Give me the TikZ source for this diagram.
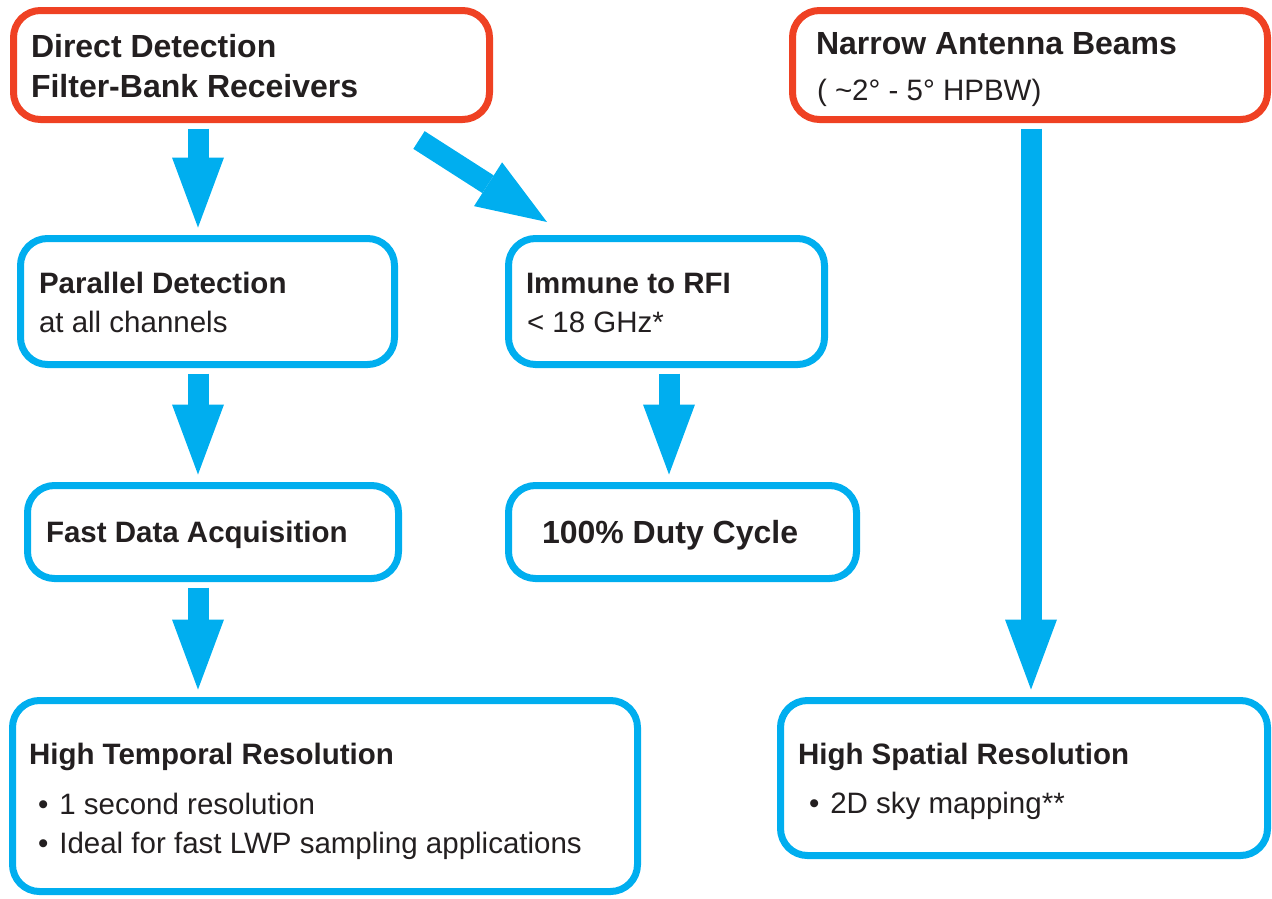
\documentclass[tikz,border=0pt]{standalone}
\usepackage{fontspec}
\setmainfont{Liberation Sans}
\usetikzlibrary{arrows.meta}
\begin{document}
\begin{tikzpicture}[x=1pt,y=-1pt,
		redbox/.style={draw=custcol_ef_41_23, line width=7pt, rounded corners=27pt, inner sep=0, outer sep=0},
		bluebox/.style={draw=custcol_0_ae_ef, line width=7pt, rounded corners=27pt, inner sep=0, outer sep=0},
		headtxt/.style={inner sep=0, outer sep=0, anchor=base west, text=custcol_23_1f_20, font=\fontsize{29.5pt}{29.5pt}\bfseries\selectfont},
		bigtxt/.style={headtxt, font=\fontsize{32pt}{32pt}\bfseries\selectfont},
		bodytxt/.style={headtxt, font=\fontsize{29.5pt}{29.5pt}\selectfont},
		flow/.style={draw=custcol_0_ae_ef, line width=21pt, line cap=butt, shorten <=9pt, shorten >=11pt, -{Triangle[width=52pt,length=70pt,line width=0pt]}}]
				\definecolor{custcol_ef_41_23}{RGB}{239, 65, 35}
				\definecolor{custcol_0_ae_ef}{RGB}{0, 174, 239}
				\definecolor{custcol_23_1f_20}{RGB}{35, 31, 32}
				\useasboundingbox (0,0) rectangle (1272,898);
				% boxes
				\node[redbox, minimum width=476pt, minimum height=109pt] (direct) at (251.5,65) {};
				\node[redbox, minimum width=475pt, minimum height=109pt] (narrow) at (1030,65) {};
				\node[bluebox, minimum width=374pt, minimum height=126pt] (parallel) at (207.5,301.5) {};
				\node[bluebox, minimum width=316pt, minimum height=126pt] (immune) at (666.5,301.5) {};
				\node[bluebox, minimum width=371pt, minimum height=93pt] (fast) at (213,532) {};
				\node[bluebox, minimum width=348pt, minimum height=93pt] (duty) at (682.5,532) {};
				\node[bluebox, minimum width=625pt, minimum height=191pt] (temporal) at (325,796) {};
				\node[bluebox, minimum width=487pt, minimum height=155pt] (spatial) at (1024,778) {};
				% texts
				\node[bigtxt] (direct-a) at (31,57) {Direct Detection};
				\node[bigtxt] (direct-b) at (31,97) {Filter-Bank Receivers};
				\node[bigtxt] (narrow-a) at (816,54) {Narrow Antenna Beams};
				\node[bodytxt] (narrow-b) at (817,100) {( \char"007E 2° - 5° HPBW)};
				\node[headtxt] (parallel-a) at (39,293) {Parallel Detection};
				\node[bodytxt] (parallel-b) at (39,332) {at all channels};
				\node[headtxt] (immune-a) at (526,293) {Immune to RFI};
				\node[bodytxt] (immune-b) at (527,332) {< 18 GHz*};
				\node[headtxt] (fast-a) at (46,542) {Fast Data Acquisition};
				\node[bigtxt] (duty-a) at (542,543) {100\% Duty Cycle};
				\node[headtxt] (temporal-a) at (29,764) {High Temporal Resolution};
				\node[bodytxt] (temporal-b) at (38,814) {•\hspace{11pt}1 second resolution};
				\node[bodytxt] (temporal-c) at (38,853) {•\hspace{11pt}Ideal for fast LWP sampling applications};
				\node[headtxt] (spatial-a) at (798,764) {High Spatial Resolution};
				\node[bodytxt] (spatial-b) at (809,813) {•\hspace{11pt}2D sky mapping**};
				% arrows
				\draw[flow] (direct.south -| 198,0) -- (parallel.north -| 198,0);
				\draw[flow, shorten <=0pt, shorten >=0pt] ([xshift=167.5pt,yshift=-20.5pt]direct.south) -- ([xshift=-119.5pt,yshift=16.5pt]immune.north);
				\draw[flow] (parallel.south -| 198,0) -- (fast.north -| 198,0);
				\draw[flow] (immune.south -| 669,0) -- (duty.north -| 669,0);
				\draw[flow] (fast.south -| 198,0) -- (temporal.north -| 198,0);
				\draw[flow] (narrow.south -| 1031,0) -- (spatial.north -| 1031,0);
			\end{tikzpicture}
\end{document}
